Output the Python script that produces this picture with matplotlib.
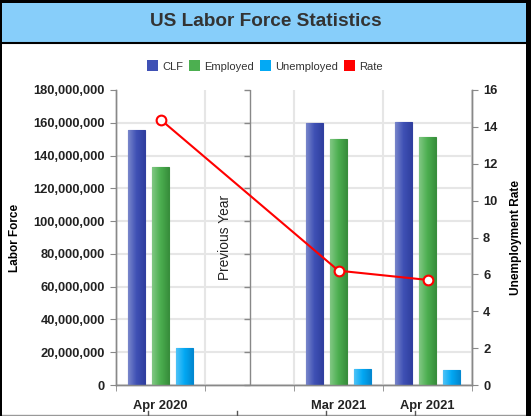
import numpy as np
import matplotlib
matplotlib.use('Agg')
import matplotlib.pyplot as plt
from matplotlib.colors import LinearSegmentedColormap
from matplotlib.patches import Rectangle
from matplotlib.lines import Line2D

plt.rcParams['font.family'] = ['Liberation Sans', 'DejaVu Sans']

# data
months = ['Apr 2020', '', 'Mar 2021', 'Apr 2021']
clf = [155.7e6, np.nan, 160.0e6, 160.4e6]
employed = [133.0e6, np.nan, 150.4e6, 151.3e6]
unemployed = [22.4e6, np.nan, 9.8e6, 9.0e6]
rate = [14.4, np.nan, 6.2, 5.7]
left_ticks = np.arange(0, 180e6 + 1, 20e6)
right_ticks = np.arange(0, 17, 2)

fig = plt.figure(figsize=(5.31, 4.16), dpi=100)

# border and title bar
fig.patches.append(Rectangle((0, 0), 1, 1, transform=fig.transFigure,
                             facecolor='white', edgecolor='none', zorder=-5))
fig.patches.append(Rectangle((0, 416 - 43), 531, 43, transform=None,
                             facecolor='#87cefa', edgecolor='none', zorder=-4))
fig.lines.append(Line2D([0, 531], [416 - 43, 416 - 43], transform=None,
                        color='black', lw=1.5))
for x0, y0, w, h in [(0, 0, 2, 416), (0, 413, 531, 3), (526, 0, 5, 416)]:
    fig.patches.append(Rectangle((x0, y0), w, h, transform=None,
                                 facecolor='black', edgecolor='none', zorder=5))
fig.lines.append(Line2D([0, 526], [1.5, 1.5], transform=None, color='#999999', lw=1))
for xt in [148, 237, 326, 415]:
    fig.lines.append(Line2D([xt, xt], [1.5, 5], transform=None, color='#555555', lw=1))

fig.text(0.5, 1 - 22 / 416, 'US Labor Force Statistics', ha='center', va='center',
         fontsize=13.7, fontweight='bold', color='#333333')

ax = fig.add_axes([116 / 531, 31 / 416, (472 - 116) / 531, (385 - 90) / 416])
ax2 = ax.twinx()

x = np.arange(len(months))
w = 0.19
offs = [-0.27, 0.0, 0.27]
series = [
    ('CLF', clf, '#3f51b5', '#7986cb', '#303f9f'),
    ('Employed', employed, '#4caf50', '#81c784', '#388e3c'),
    ('Unemployed', unemployed, '#03a9f4', '#4fc3f7', '#0288d1'),
]
handles = []
for (name, vals, col, light, dark), off in zip(series, offs):
    bars = ax.bar(x + off, vals, width=w, color=col, edgecolor=dark, linewidth=0.8, zorder=3)
    cmap = LinearSegmentedColormap.from_list(name, [light, col, dark])
    grad = np.linspace(0, 1, 64).reshape(1, -1)
    for b, v in zip(bars, vals):
        if np.isnan(v):
            continue
        im = ax.imshow(grad, cmap=cmap, aspect='auto', zorder=3.5,
                       extent=[b.get_x(), b.get_x() + b.get_width(), 0, v])
        im.set_clip_path(b)
    handles.append(Rectangle((0, 0), 1, 1, facecolor=col, edgecolor='none'))

ax.set_xlim(-0.5, len(months) - 0.5)
ax.set_ylim(0, 180e6)
ax.set_yticks(left_ticks)
ax.set_yticklabels([f'{int(v):,}' for v in left_ticks])
ax.set_xticks(x)
ax.set_xticklabels(months)
ax.set_xticks(np.arange(-0.5, len(months)), minor=True)
ax.tick_params(axis='x', which='major', length=0, pad=11)
ax.tick_params(axis='x', which='minor', length=4, color='#888888')
ax.grid(True, axis='x', which='minor', color='#e6e6e6', lw=1.5, zorder=0)
ax.grid(True, axis='y', color='#e6e6e6', lw=1.5, zorder=0)
ax.get_ygridlines()[-1].set_visible(False)
ax.tick_params(axis='y', length=4, color='#888888', pad=4)
for lab in ax.get_xticklabels() + ax.get_yticklabels():
    lab.set_fontsize(9.3)
    lab.set_fontweight('bold')
    lab.set_color('#222222')

# middle axis for the "Previous Year" group
ax.axvline(1, color='#888888', lw=1, zorder=2)
ax.plot([1] * len(left_ticks), left_ticks, ls='none', marker=0, ms=4,
        mec='#888888', mew=1, zorder=2, clip_on=False)
ax.text(0.72, 90e6, 'Previous Year', rotation=90, ha='center', va='center',
        fontsize=9.9, color='#222222')

ax.set_ylabel('Labor Force', fontsize=8.5, fontweight='bold', labelpad=9)

xr = [i for i, v in enumerate(rate) if not np.isnan(v)]
rr = [rate[i] for i in xr]
ax2.plot(xr, rr, color='#ff0000', lw=1.5, marker='o', ms=7, mfc='white',
         mec='#ff0000', mew=1.5, zorder=5)
ax2.set_ylim(0, 16)
ax2.set_yticks(right_ticks)
ax2.tick_params(axis='y', length=4, color='#888888', pad=4)
for lab in ax2.get_yticklabels():
    lab.set_fontsize(9.3)
    lab.set_fontweight('bold')
    lab.set_color('#222222')
ax2.set_ylabel('Unemployment Rate', fontsize=8.6, fontweight='bold', labelpad=9)
handles.append(Rectangle((0, 0), 1, 1, facecolor='#ff0000', edgecolor='none'))

for a in (ax, ax2):
    a.spines['top'].set_visible(False)
    for s in ('left', 'right', 'bottom'):
        a.spines[s].set_color('#888888')
        a.spines[s].set_linewidth(1)

fig.legend(handles, ['CLF', 'Employed', 'Unemployed', 'Rate'], loc='center',
           bbox_to_anchor=(265 / 531, 1 - 66 / 416), ncol=4, frameon=False,
           fontsize=8, handlelength=1.0, handleheight=1.1, handletextpad=0.4,
           columnspacing=0.5, labelcolor='#333333')

fig.savefig('out.png', dpi=100)
